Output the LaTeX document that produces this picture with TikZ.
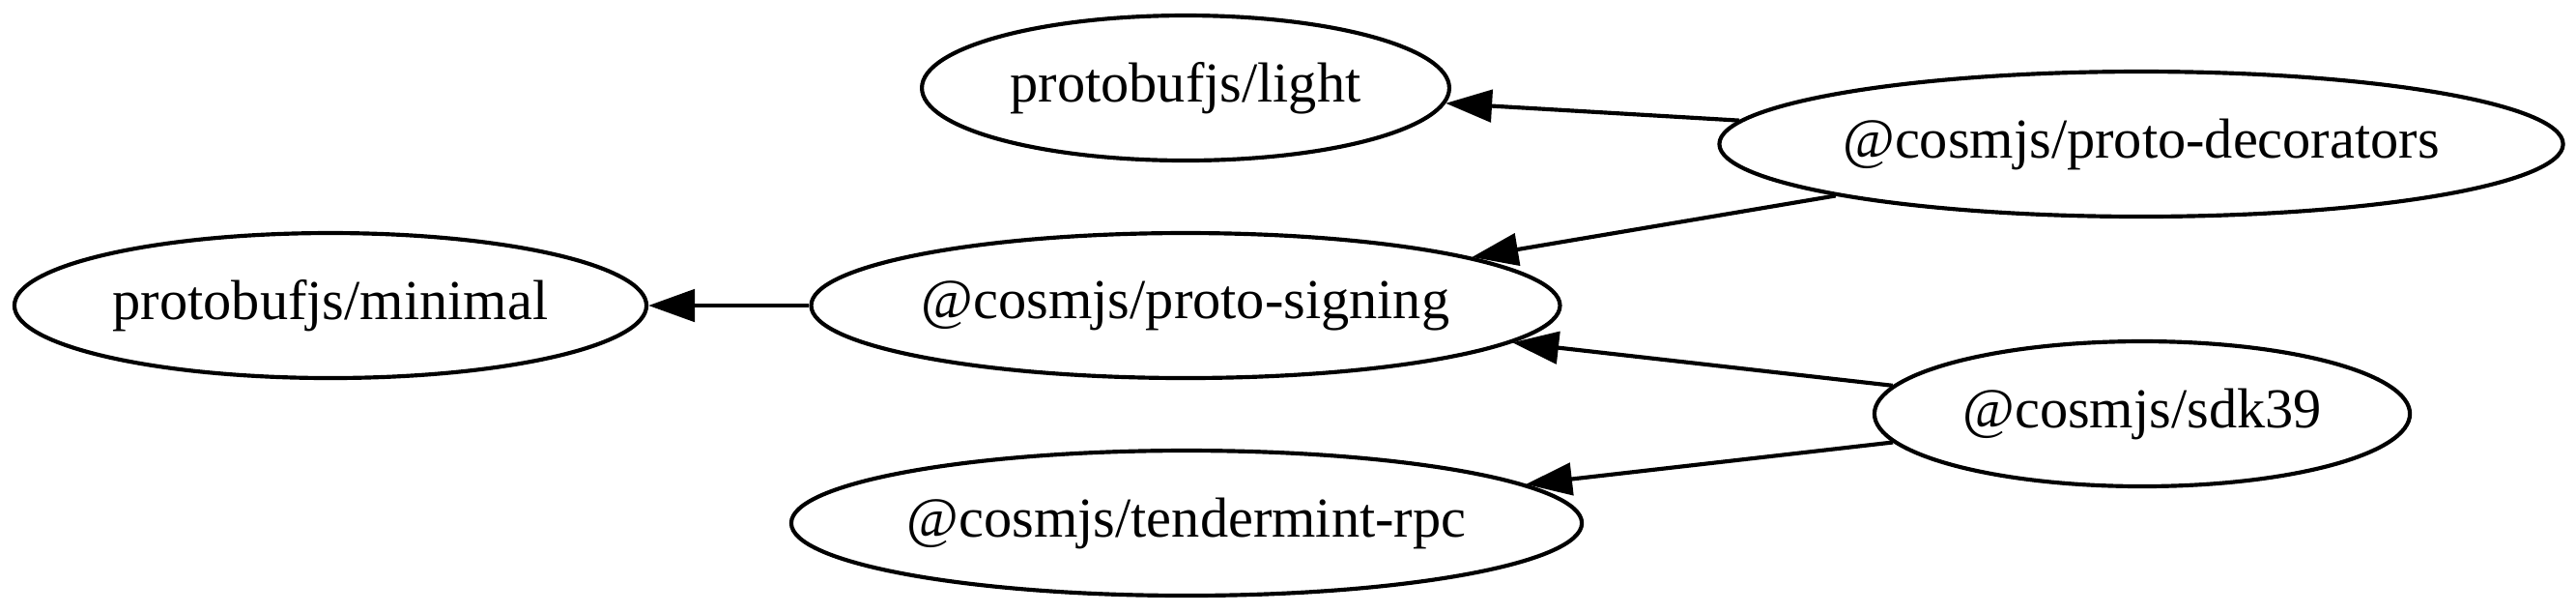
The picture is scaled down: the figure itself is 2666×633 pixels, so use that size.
\documentclass[tikz,border=0pt]{standalone}
\usepackage{fontspec}
\setmainfont{Liberation Serif}
\usepackage{tikz}
\usetikzlibrary{arrows.meta, shapes.geometric, positioning}
\tikzset{every node/.append style={align=center}}
\tikzset{
  pkg/.style={draw=black, ellipse, line width=1pt, inner sep=0pt,
              minimum height=36pt, font=\fontsize{14}{16}\selectfont},
  dep/.style={line width=1pt, -{Triangle[length=11.5pt,width=8pt]}}
}

\begin{document}
\begin{tikzpicture}[x=0.24pt,y=-0.24pt]
\useasboundingbox (0,0) rectangle (2666,633);

% ── Packages ──────────────────────────────────────────────────────────────────
\node[pkg, minimum width=157pt] (minimal)    at (342,316)  {protobufjs/minimal};
\node[pkg, minimum width=131pt] (light)      at (1227,91)  {protobufjs/light};
\node[pkg, minimum width=186pt] (signing)    at (1227,316) {@cosmjs/proto-signing};
\node[pkg, minimum width=195pt] (tmrpc)      at (1228,541) {@cosmjs/tendermint-rpc};
\node[pkg, minimum width=208pt] (decorators) at (2216,149) {@cosmjs/proto-decorators};
\node[pkg, minimum width=133pt] (sdk)        at (2217,428) {@cosmjs/sdk39};

% ── Dependencies ──────────────────────────────────────────────────────────────
\draw[dep] (signing)    -- (minimal);
\draw[dep] (decorators) -- (light);
\draw[dep] (decorators) -- (signing);
\draw[dep] (sdk)        -- (signing);
\draw[dep] (sdk)        -- (tmrpc);

\end{tikzpicture}
\end{document}
